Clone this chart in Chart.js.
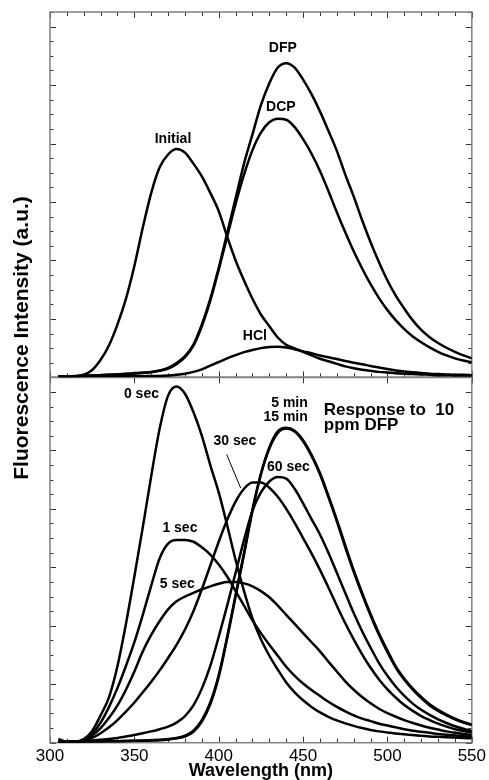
<!DOCTYPE html>
<html>
<head>
<meta charset="utf-8">
<script src="https://cdn.jsdelivr.net/npm/chart.js@4.4.1/dist/chart.umd.min.js"></script>
<style>
html,body{margin:0;padding:0;background:#fff;}
canvas{display:block;}
</style>
</head>
<body>
<canvas id="c" width="489" height="780" style="width:489px;height:780px"></canvas>
<script>
// ---------- DATA ----------
const wavelengths = [305,310,315,320,325,330,335,340,345,350,
                     355,360,365,370,375,380,385,390,395,400,
                     405,410,415,420,425,430,435,440,445,450,
                     455,460,465,470,475,480,485,490,495,500,
                     505,510,515,520,525,530,535,540,545,550];
const xTickLabels = [300,350,400,450,500,550];

// top panel
const topInitial = [0.3,0.3,0.4,0.7,2.0,4.8,8.8,14.5,21.5,30.5,
                    41,50.5,57.5,61,62.5,61.5,58.5,55,50.5,45.5,
                    38.5,32,26.5,21.5,17.2,14,10.9,8.9,7.9,7.0,
                    6.0,5.1,4.4,3.7,3.0,2.5,2.1,1.8,1.5,1.3,
                    1.1,1.0,0.9,0.8,0.7,0.6,0.6,0.5,0.5,0.5];
const topDFP = [0.3,0.3,0.3,0.4,0.5,0.6,0.7,0.8,1.0,1.1,
                1.3,1.5,1.9,2.6,3.9,5.8,9.0,14.5,21.5,30,
                39.5,49,58.5,66.5,74.5,80.5,84.8,86,84.8,81.5,
                77.5,72.8,67.5,62,55.5,49.5,43,37,31.5,26.5,
                22.3,18.8,15.6,13,11,9.4,8.1,7.0,6.0,5.2];
const topDCP = [0.3,0.3,0.3,0.4,0.5,0.6,0.7,0.8,0.9,1.0,
                1.2,1.4,1.8,2.4,3.6,5.5,8.7,14,21,29.5,
                38.5,47.5,55.5,62.2,67,69.8,70.8,70.5,68.5,65.2,
                61.2,56.5,51,45.2,39.7,34.5,29.8,25.5,21.7,18.4,
                15.6,13.2,11.2,9.6,8.2,7.0,6.0,5.2,4.6,4.1];
const topHCl = [0.3,0.3,0.3,0.3,0.3,0.3,0.3,0.3,0.3,0.3,
                0.3,0.4,0.4,0.5,0.7,1.0,1.5,2.2,3.2,4.2,
                5.2,6.1,6.9,7.5,8.0,8.3,8.4,8.2,7.7,7.1,
                6.6,6.0,5.5,5.0,4.5,4.0,3.6,3.1,2.7,2.3,
                1.9,1.6,1.4,1.2,1.0,0.9,0.8,0.7,0.7,0.6];

// bottom panel
const bot0s = [1.0,0.3,0.3,1.0,3.2,7.5,12.5,21,32.5,45.5,
               59,73,86,95,97.5,95.5,90.5,84,76,68.5,
               59.5,50,41.5,34,28.3,23.8,20,16.5,13.8,11.6,
               9.8,8.3,7.1,6.1,5.3,4.6,4.0,3.5,3.1,2.8,
               2.5,2.3,2.1,1.9,1.7,1.6,1.5,1.4,1.3,1.2];
const bot1s = [0.3,0.3,0.3,0.8,2.5,5.5,9.8,15,21,27.5,
               35,43,50.5,54.5,55.5,55.5,55,53.5,51.5,48.8,
               45.5,41.5,37.5,33.5,30,26.8,23.8,20.8,18.3,16.2,
               14.4,12.8,11.2,9.8,8.6,7.5,6.6,5.9,5.2,4.7,
               4.2,3.7,3.3,3.0,2.7,2.4,2.2,2.0,1.8,1.6];
const bot5s = [0.3,0.3,0.3,0.7,2.0,4.0,6.8,10.2,14.5,19.5,
               25,29.5,33.3,36.5,38.7,40,41,42,42.8,43.5,
               44,44,43.6,42.8,41.5,39.8,37.5,35,32.5,30,
               27.5,25,22.2,19.5,16.8,14.5,12.5,10.8,9.3,8.1,
               7.1,6.2,5.4,4.7,4.1,3.6,3.1,2.7,2.4,2.1];
const bot30s = [0.3,0.3,0.3,0.5,1.3,2.6,4.2,6.2,8.5,11,
                13.8,16.7,19.8,23.2,26.8,31,36,42,48.5,55,
                61,66,69.5,71.2,71.2,69.8,67.3,64,60.2,56,
                51.8,47.3,42.5,37.5,32.7,28.3,24.2,20.5,17.3,14.6,
                12.3,10.3,8.7,7.3,6.2,5.2,4.4,3.7,3.2,2.8];
const bot60s = [0.3,0.3,0.3,0.4,0.6,0.8,1.0,1.3,1.7,2.1,
                2.6,3.1,3.7,4.4,5.5,7.3,10.2,14.8,21,29,
                37.5,46.5,55.5,63.5,68.5,71.5,72.7,72.3,69.5,65.5,
                61.2,57,52,46.5,41,35.5,30.5,26,21.8,18.3,
                15.3,12.8,10.7,9.0,7.6,6.4,5.4,4.5,3.8,3.2];
const bot5min = [0.3,0.3,0.3,0.3,0.3,0.4,0.4,0.4,0.5,0.5,
                 0.6,0.7,0.8,1.0,1.3,1.9,3.3,6.2,11,18.5,
                 29,40.5,52,63.8,73.5,80.5,84.8,86,85.2,82.5,
                 78.5,73.5,67.2,60.6,53.5,46.8,40.6,34.8,29.5,24.8,
                 20.5,17.2,14.5,12.2,10.2,8.7,7.5,6.4,5.5,4.8];
const bot15min = [0.3,0.3,0.3,0.3,0.3,0.3,0.4,0.4,0.4,0.5,
                  0.5,0.6,0.7,0.9,1.2,1.7,3.0,5.8,10.5,18,
                  28.5,40,51.5,63.5,73.5,80.8,85.2,86.2,85.4,82.8,
                  78.8,73.8,67.6,61,54,47.2,41,35.2,29.9,25.2,
                  20.8,17.5,14.8,12.5,10.5,9.0,7.7,6.6,5.7,5.0];

// text annotations (wavelength, intensity) per panel
const topLabels = [
  {text:'Initial', x:372.9, y:65.2, align:'center'},
  {text:'DFP', x:438.0, y:90.1, align:'center'},
  {text:'DCP', x:436.8, y:74.0, align:'center'},
  {text:'HCl', x:421.4, y:11.4, align:'center'}
];
const bottomLabels = [
  {text:'0 sec', x:354.2, y:95.4, align:'center'},
  {text:'1 sec', x:377.0, y:58.6, align:'center'},
  {text:'5 sec', x:375.5, y:43.4, align:'center'},
  {text:'30 sec', x:409.6, y:82.5, align:'center'},
  {text:'60 sec', x:441.3, y:75.5, align:'center'},
  {text:'5 min', x:452.8, y:93.0, align:'right'},
  {text:'15 min', x:452.8, y:89.2, align:'right'}
];
const noteLines = ['Response to  10', 'ppm DFP'];
const noteAnchor = {x:462.3, y:[91.1, 87.0]};
const leader30 = {from:{x:404.7, y:78.9}, to:{x:413.0, y:69.7}};

// ---------- CHART ----------
const FONT = '"Liberation Sans", Arial, Helvetica, sans-serif';
const pts = arr => wavelengths.map((w, i) => ({x: w, y: arr[i]}));
const mk = (label, arr, axis) => ({
  label, data: pts(arr), yAxisID: axis, borderColor: '#000', borderWidth: 2.5,
  pointRadius: 0, fill: false, cubicInterpolationMode: 'monotone'
});

const decorPlugin = {
  id: 'decor',
  beforeDatasetsDraw(chart) {
    const {ctx, chartArea: ca, scales} = chart;
    const xs = scales.x, yT = scales.yTop, yB = scales.yBot;
    const mid = yT.bottom;
    const ln = (x1, y1, x2, y2) => { ctx.beginPath(); ctx.moveTo(x1, y1); ctx.lineTo(x2, y2); ctx.stroke(); };
    ctx.save();
    ctx.strokeStyle = '#333';
    ctx.lineWidth = 1;
    for (let v = 300; v <= 550; v += 10) {
      const px = Math.round(xs.getPixelForValue(v)) + 0.5;
      const major = v % 50 === 0;
      const len = major ? 6 : 4;
      ln(px, ca.top, px, ca.top + len);
      ln(px, ca.bottom, px, ca.bottom - len);
      if (major) ln(px, mid - 6, px, mid + 6); else ln(px, mid - 4, px, mid);
    }
    for (const s of [yT, yB]) {
      for (let v = 0; v <= 100; v += 4) {
        const py = Math.round(s.getPixelForValue(v)) + 0.5;
        const len = (v % 16 === 0) ? 6 : 3.5;
        ln(ca.left, py, ca.left + len, py);
        ln(ca.right, py, ca.right - len, py);
      }
    }
    ctx.strokeStyle = '#808080';
    ctx.lineWidth = 1.5;
    ctx.strokeRect(ca.left, ca.top, ca.right - ca.left, ca.bottom - ca.top);
    ctx.lineWidth = 2;
    ln(ca.left, mid, ca.right, mid);
    ctx.restore();
  },
  afterDatasetsDraw(chart) {
    const {ctx, scales} = chart;
    const xs = scales.x, yT = scales.yTop, yB = scales.yBot;
    ctx.save();
    ctx.fillStyle = '#000';
    ctx.textBaseline = 'middle';
    ctx.font = 'bold 14px ' + FONT;
    const put = (lab, ys) => {
      ctx.textAlign = lab.align;
      ctx.fillText(lab.text, xs.getPixelForValue(lab.x), ys.getPixelForValue(lab.y));
    };
    topLabels.forEach(l => put(l, yT));
    bottomLabels.forEach(l => put(l, yB));
    ctx.font = 'bold 17px ' + FONT;
    ctx.textAlign = 'left';
    noteLines.forEach((t, i) => ctx.fillText(t, xs.getPixelForValue(noteAnchor.x), yB.getPixelForValue(noteAnchor.y[i])));
    // leader line for 30 sec
    ctx.strokeStyle = '#000';
    ctx.lineWidth = 1;
    ctx.beginPath();
    ctx.moveTo(xs.getPixelForValue(leader30.from.x), yB.getPixelForValue(leader30.from.y));
    ctx.lineTo(xs.getPixelForValue(leader30.to.x), yB.getPixelForValue(leader30.to.y));
    ctx.stroke();
    // y-axis title
    ctx.save();
    ctx.translate(22, 338);
    ctx.rotate(-Math.PI / 2);
    ctx.textAlign = 'center';
    ctx.font = 'bold 21px ' + FONT;
    ctx.fillText('Fluorescence Intensity (a.u.)', 0, 0);
    ctx.restore();
    ctx.restore();
  }
};

const yCommon = {
  type: 'linear', min: 0, max: 100, position: 'left', stack: 'panels', stackWeight: 1,
  ticks: {display: false}, grid: {display: false, drawTicks: false}, border: {display: false},
  afterFit(s) { s.width = 50; }
};

new Chart(document.getElementById('c'), {
  type: 'line',
  data: {
    datasets: [
      mk('Initial', topInitial, 'yTop'),
      mk('DFP', topDFP, 'yTop'),
      mk('DCP', topDCP, 'yTop'),
      mk('HCl', topHCl, 'yTop'),
      mk('0 sec', bot0s, 'yBot'),
      mk('1 sec', bot1s, 'yBot'),
      mk('5 sec', bot5s, 'yBot'),
      mk('30 sec', bot30s, 'yBot'),
      mk('60 sec', bot60s, 'yBot'),
      mk('5 min', bot5min, 'yBot'),
      mk('15 min', bot15min, 'yBot')
    ]
  },
  options: {
    responsive: false,
    maintainAspectRatio: false,
    animation: false,
    layout: {padding: {top: 12, right: 17, bottom: 0, left: 0}},
    plugins: {legend: {display: false}, tooltip: {enabled: false}},
    scales: {
      x: {
        type: 'linear', min: 300, max: 550, position: 'bottom',
        grid: {display: false, drawTicks: false}, border: {display: false},
        ticks: {color: '#000', font: {size: 17, family: FONT}, padding: 3, maxRotation: 0, autoSkip: false},
        afterBuildTicks(axis) { axis.ticks = xTickLabels.map(v => ({value: v})); },
        title: {display: true, text: 'Wavelength (nm)', color: '#000', font: {size: 18, weight: 'bold', family: FONT, lineHeight: 1.0}, padding: {top: 0, bottom: 0}},
        afterFit(s) { s.height = 37.3; }
      },
      yBot: Object.assign({}, yCommon, {weight: 1}),
      yTop: Object.assign({}, yCommon, {weight: 2})
    }
  },
  plugins: [decorPlugin]
});
</script>
</body>
</html>
